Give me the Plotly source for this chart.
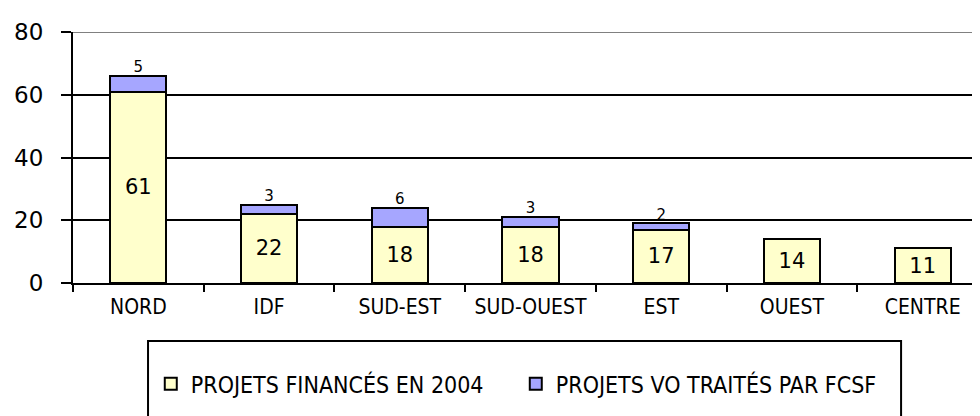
import plotly.graph_objects as go

categories = ["NORD", "IDF", "SUD-EST", "SUD-OUEST", "EST", "OUEST", "CENTRE"]
financed = [61, 22, 18, 18, 17, 14, 11]
vo_treated = [5, 3, 6, 3, 2, 0, 0]
series_names = ["PROJETS FINANCÉS EN 2004", "PROJETS VO TRAITÉS PAR FCSF"]
y_ticks = [0, 20, 40, 60, 80]

COND = "DejaVu Sans Condensed"
SANS = "DejaVu Sans"
YELLOW = "#FFFFCC"
BLUE = "#A6A6FF"

fig = go.Figure()
fig.add_trace(go.Bar(
    x=categories, y=financed, name=series_names[0],
    marker=dict(color=YELLOW, line=dict(color="black", width=2)),
    text=[str(v) for v in financed], textposition="inside",
    insidetextanchor="middle", constraintext="none",
    textfont=dict(family=SANS, size=21, color="black"),
    width=0.43,
))
fig.add_trace(go.Bar(
    x=categories, y=vo_treated, name=series_names[1],
    marker=dict(color=BLUE, line=dict(color="black", width=2)),
    width=0.43,
))
totals = [a + b for a, b in zip(financed, vo_treated)]
fig.add_trace(go.Scatter(
    x=categories, y=totals, mode="text",
    text=[str(v) if v else "" for v in vo_treated],
    textposition="top center",
    textfont=dict(family=SANS, size=15, color="black"),
    showlegend=False, hoverinfo="skip", cliponaxis=False,
))

fig.update_layout(
    barmode="stack",
    width=980, height=416,
    margin=dict(l=65, r=0, t=24, b=141, autoexpand=False),
    paper_bgcolor="white", plot_bgcolor="white",
    font=dict(family=COND, color="black"),
    showlegend=True,
    legend=dict(
        orientation="h", x=0.085, y=-0.402, xanchor="left", yanchor="middle",
        font=dict(family=COND, size=23), traceorder="normal",
        itemwidth=30, entrywidth=320, bgcolor="rgba(0,0,0,0)",
    ),
    xaxis=dict(
        type="category", showline=True, linecolor="black", linewidth=2,
        ticks="outside", tickson="boundaries", ticklen=7, tickwidth=2,
        tickcolor="black", showgrid=False, automargin=False,
        ticklabelstandoff=4,
        tickfont=dict(family=COND, size=21), range=[-0.5, 6.5],
    ),
    yaxis=dict(
        range=[0, 80], tickvals=y_ticks, showline=True, linecolor="black",
        linewidth=2, ticks="outside", ticklen=10, tickwidth=2, tickcolor="black",
        showgrid=True, gridcolor="black", gridwidth=2, zeroline=False,
        automargin=False, ticklabelstandoff=13,
        tickfont=dict(family=SANS, size=23),
    ),
    shapes=[
        dict(type="rect", xref="paper", yref="paper",
             x0=0.082, x1=0.905, y0=-0.231, y1=-0.7,
             line=dict(color="black", width=2), fillcolor="rgba(0,0,0,0)"),
        dict(type="line", xref="paper", yref="y", x0=0, x1=1, y0=80, y1=80,
             line=dict(color="#808080", width=2)),
    ],
)

fig.write_html("out.html")
